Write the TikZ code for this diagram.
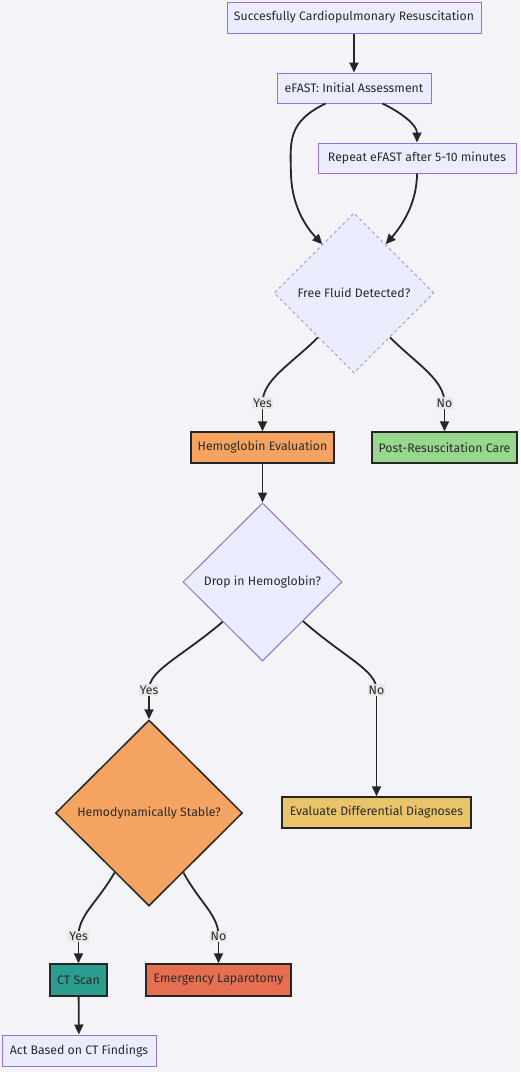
\documentclass[tikz,border=0pt]{standalone}
\usepackage{fontspec}
\setmainfont{Fira Sans}
\usetikzlibrary{shapes.geometric,arrows.meta}
\definecolor{bg}{RGB}{244,244,248}
\definecolor{lav}{HTML}{ECECFF}
\definecolor{lavb}{HTML}{9370DB}
\definecolor{txt}{HTML}{2A2A2A}
\definecolor{sandyc}{HTML}{F4A460}
\definecolor{mintc}{RGB}{152,216,142}
\definecolor{tealc}{HTML}{2A9D8F}
\definecolor{goldc}{HTML}{E9C46A}
\definecolor{tomatoc}{HTML}{E76F51}
\definecolor{lblbg}{RGB}{232,232,232}
\begin{document}
\begin{tikzpicture}[x=1pt,y=-1pt, font=\fontsize{12.3}{14}\selectfont, text=txt,
 box/.style={rectangle, draw=lavb, fill=lav, line width=1pt, inner sep=0, minimum height=31},
 cbox/.style={rectangle, draw=black!85, line width=1.5pt, inner sep=0, minimum height=31},
 dia/.style={diamond, aspect=1, inner sep=0, minimum width=160, minimum height=160},
 edge/.style={line width=1.8pt, draw=black!85, -{Triangle[length=10pt,width=9pt]}},
 lbl/.style={fill=lblbg, inner sep=1.2pt, text=txt}]
\fill[bg] (0,0) rectangle (520,1072);
\useasboundingbox (0,0) rectangle (520,1072);

\node[box, minimum width=254] (A) at (354,17.5) {Succesfully Cardiopulmonary Resuscitation};
\node[box, minimum width=154, minimum height=30] (B) at (354,88) {eFAST: Initial Assessment};
\node[box, minimum width=198, minimum height=30] (C) at (417,158) {Repeat eFAST after 5-10 minutes};
\node[dia, draw=lavb!80, fill=lav, line width=0.9pt, dash pattern=on 3pt off 3pt] (D) at (354,293) {Free Fluid Detected?};
\node[cbox, fill=sandyc, minimum width=143] (E) at (262.5,447.5) {Hemoglobin Evaluation};
\node[cbox, fill=mintc, minimum width=145] (F) at (444.5,447.5) {Post-Resuscitation Care};
\node[dia, draw=lavb, fill=lav, line width=1pt, minimum width=159, minimum height=158] (G) at (262.5,582) {Drop in Hemoglobin?};
\node[dia, draw=black!85, fill=sandyc, line width=1.5pt, minimum width=187, minimum height=186] (H) at (149,813) {Hemodynamically Stable?};
\node[cbox, fill=goldc, minimum width=189] (I) at (376.5,812.5) {Evaluate Differential Diagnoses};
\node[cbox, fill=tealc, minimum width=57, minimum height=32] (J) at (78.5,980) {CT Scan};
\node[cbox, fill=tomatoc, minimum width=145, minimum height=32] (K) at (218.5,980) {Emergency Laparotomy};
\node[box, minimum width=154] (L) at (79,1050.5) {Act Based on CT Findings};

\coordinate (ye) at (262.5,403);
\coordinate (ne) at (444.5,403);
\coordinate (yg) at (149,690);
\coordinate (ng) at (376.5,690);
\coordinate (yh) at (78.5,936);
\coordinate (nh) at (218.5,936);

\draw[edge] (A) -- (B);
\draw[edge] (B.south east) ++(-49,0) coordinate (bse) (bse) .. controls (402,113) and (417,125) .. (C.north);
\draw[edge] (B.south west) ++(49,0) coordinate (bsw) (bsw) .. controls (288,122) and (290,140) .. (291,175) .. controls (292,205) and (305,226) .. (D.123);
\draw[edge] (C.south) .. controls (417,205) and (400,228) .. (D.57);
\draw[edge, -] (D.231) .. controls (290,365) and (262.5,380) .. (ye);
\draw[edge] (ye) -- (E.north);
\draw[edge, -] (D.309) .. controls (418,365) and (444.5,380) .. (ne);
\draw[edge] (ne) -- (F.north);
\draw[edge] (E) -- (G);
\draw[edge, -] (G.225) .. controls (180,658) and (149,670) .. (yg);
\draw[edge] (yg) -- (H.north);
\draw[edge, -] (G.316) .. controls (345,658) and (376.5,670) .. (ng);
\draw[edge] (ng) -- (I.north);
\draw[edge, -] (H.240) .. controls (97,903) and (78.5,915) .. (yh);
\draw[edge] (yh) -- (J.north);
\draw[edge, -] (H.300) .. controls (200,903) and (218.5,915) .. (nh);
\draw[edge] (nh) -- (K.north);
\draw[edge] (J) -- (L);

\node[lbl] (lye) at (ye) {Yes};
\node[lbl] (lne) at (ne) {No};
\node[lbl] (lyg) at (yg) {Yes};
\node[lbl] (lng) at (ng) {No};
\node[lbl] (lyh) at (yh) {Yes};
\node[lbl] (lnh) at (nh) {No};
\end{tikzpicture}
\end{document}
